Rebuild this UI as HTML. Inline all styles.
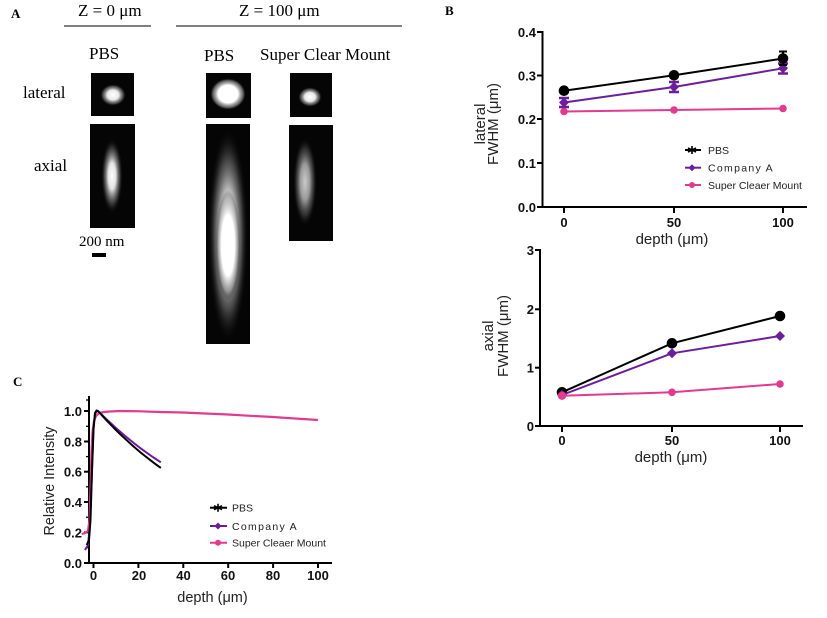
<!DOCTYPE html>
<html><head><meta charset="utf-8"><style>
html,body{margin:0;padding:0;background:#fff;}
svg{display:block;}
.serif{font-family:"Liberation Serif",serif;}
.sans{font-family:"Liberation Sans",sans-serif;}
</style></head><body>
<svg width="827" height="618" viewBox="0 0 827 618" xmlns="http://www.w3.org/2000/svg">
<defs>
<radialGradient id="g1" cx="50%" cy="50%" r="50%">
 <stop offset="0" stop-color="#fff" stop-opacity="1"/>
 <stop offset="0.45" stop-color="#f4f4f4" stop-opacity="0.95"/>
 <stop offset="0.8" stop-color="#888" stop-opacity="0.5"/>
 <stop offset="1" stop-color="#000" stop-opacity="0"/>
</radialGradient>
<radialGradient id="g2" cx="50%" cy="50%" r="50%">
 <stop offset="0" stop-color="#fff" stop-opacity="1"/>
 <stop offset="0.55" stop-color="#fff" stop-opacity="1"/>
 <stop offset="0.85" stop-color="#999" stop-opacity="0.6"/>
 <stop offset="1" stop-color="#000" stop-opacity="0"/>
</radialGradient>
<radialGradient id="g3" cx="50%" cy="50%" r="50%">
 <stop offset="0" stop-color="#fff" stop-opacity="1"/>
 <stop offset="0.35" stop-color="#eee" stop-opacity="0.95"/>
 <stop offset="0.7" stop-color="#777" stop-opacity="0.55"/>
 <stop offset="1" stop-color="#000" stop-opacity="0"/>
</radialGradient>
<radialGradient id="g4" cx="50%" cy="50%" r="50%">
 <stop offset="0" stop-color="#ccc" stop-opacity="1"/>
 <stop offset="0.4" stop-color="#aaa" stop-opacity="0.9"/>
 <stop offset="0.75" stop-color="#555" stop-opacity="0.5"/>
 <stop offset="1" stop-color="#000" stop-opacity="0"/>
</radialGradient>
</defs>

<!-- ===== Panel A ===== -->
<g class="serif" fill="#000">
<text x="11" y="18" font-size="13" font-weight="bold">A</text>
<text x="78" y="16" font-size="17">Z = 0 μm</text>
<line x1="64" y1="26" x2="151" y2="26" stroke="#000" stroke-width="1"/>
<text x="239" y="16" font-size="17">Z = 100 μm</text>
<line x1="176" y1="26" x2="402" y2="26" stroke="#000" stroke-width="1"/>
<text x="89" y="59" font-size="17">PBS</text>
<text x="204" y="61" font-size="17">PBS</text>
<text x="260" y="60" font-size="17">Super Clear Mount</text>
<text x="23" y="98" font-size="17">lateral</text>
<text x="34" y="171" font-size="17">axial</text>
<text x="79" y="246" font-size="15">200 nm</text>
</g>
<rect x="92" y="253" width="14" height="4" fill="#000"/>

<!-- images -->
<rect x="91" y="73" width="43" height="43" fill="#050505"/>
<ellipse cx="113" cy="95" rx="13" ry="11" fill="url(#g1)"/>
<rect x="206" y="73" width="45" height="45" fill="#050505"/>
<ellipse cx="228" cy="94" rx="18" ry="16" fill="url(#g2)"/>
<rect x="290" y="73" width="42" height="44" fill="#050505"/>
<ellipse cx="310" cy="97" rx="12" ry="10" fill="url(#g1)"/>

<rect x="90" y="124" width="45" height="104" fill="#050505"/>
<ellipse cx="112" cy="176" rx="11" ry="38" fill="url(#g3)"/>
<rect x="206" y="124" width="44" height="220" fill="#050505"/>
<ellipse cx="228" cy="235" rx="20" ry="108" fill="url(#g3)"/>
<ellipse cx="228" cy="245" rx="12" ry="55" fill="url(#g2)"/>
<rect x="289" y="125" width="44" height="116" fill="#050505"/>
<ellipse cx="305" cy="182" rx="12" ry="45" fill="url(#g4)"/>

<!-- ===== Panel B top ===== -->
<text x="445" y="15" class="serif" font-size="13" font-weight="bold">B</text>
<g stroke="#000" stroke-width="2" fill="none">
 <line x1="542.5" y1="31" x2="542.5" y2="208"/>
 <line x1="541.5" y1="207" x2="807" y2="207"/>
 <line x1="537" y1="32" x2="543" y2="32"/>
 <line x1="537" y1="75.5" x2="543" y2="75.5"/>
 <line x1="537" y1="119" x2="543" y2="119"/>
 <line x1="537" y1="163" x2="543" y2="163"/>
 <line x1="537" y1="207" x2="543" y2="207"/>
 <line x1="564" y1="207" x2="564" y2="213"/>
 <line x1="674" y1="207" x2="674" y2="213"/>
 <line x1="783" y1="207" x2="783" y2="213"/>
</g>
<g class="sans" font-size="13" font-weight="bold" text-anchor="end" fill="#111">
 <text x="536" y="37">0.4</text>
 <text x="536" y="80.5">0.3</text>
 <text x="536" y="124">0.2</text>
 <text x="536" y="168">0.1</text>
 <text x="536" y="212">0.0</text>
</g>
<g class="sans" font-size="13" font-weight="bold" text-anchor="middle" fill="#111">
 <text x="564" y="227">0</text>
 <text x="674" y="227">50</text>
 <text x="783" y="227">100</text>
</g>
<text x="672" y="244" class="sans" font-size="15" text-anchor="middle" fill="#222">depth (μm)</text>
<text transform="translate(485,124) rotate(-90)" class="sans" font-size="15" text-anchor="middle" fill="#222">lateral</text>
<text transform="translate(498,124) rotate(-90)" class="sans" font-size="15" text-anchor="middle" fill="#222">FWHM (μm)</text>

<!-- series -->
<polyline points="564,111.5 674,110 783,108.5" fill="none" stroke="#e23a8e" stroke-width="2"/>
<g fill="#e23a8e"><circle cx="564" cy="111.5" r="3.8"/><circle cx="674" cy="110" r="3.8"/><circle cx="783" cy="108.5" r="3.8"/></g>
<polyline points="564,102.5 674,87 783,68.3" fill="none" stroke="#6b1d9c" stroke-width="2"/>
<g stroke="#6b1d9c" stroke-width="2.5" fill="none">
 <path d="M564,98v9M559,98h10M559,107h10"/>
 <path d="M674,82v10M669,82h10M669,92h10"/>
 <path d="M783,63.5v10M778,63.5h10M778,73.5h10"/>
</g>
<g fill="#6b1d9c">
 <path d="M564,97.5l5,5l-5,5l-5,-5z"/>
 <path d="M674,82l5,5l-5,5l-5,-5z"/>
 <path d="M783,63.3l5,5l-5,5l-5,-5z"/>
</g>
<polyline points="564,90.7 674,75.3 783,58.5" fill="none" stroke="#000" stroke-width="2"/>
<g stroke="#000" stroke-width="2" fill="none"><path d="M783,51.5v13.5M779,51.5h8M779,65h8"/></g>
<g fill="#000"><circle cx="564" cy="90.7" r="5.3"/><circle cx="674" cy="75.3" r="5.3"/><circle cx="783" cy="58.5" r="5.3"/></g>

<!-- legend B -->
<g stroke-width="2">
 <line x1="685" y1="150" x2="701" y2="150" stroke="#000"/>
 <line x1="685" y1="167.7" x2="701" y2="167.7" stroke="#6b1d9c"/>
 <line x1="685" y1="185" x2="701" y2="185" stroke="#e23a8e"/>
</g>
<path d="M692,146v8M688,148l8,4M688,152l8,-4" stroke="#000" stroke-width="1.6"/>
<path d="M692,164.2l3.5,3.5l-3.5,3.5l-3.5,-3.5z" fill="#6b1d9c"/>
<circle cx="692" cy="185" r="3" fill="#e23a8e"/>
<g class="sans" font-size="10.5" fill="#222">
 <text x="708" y="154">PBS</text>
 <text x="708" y="171.5" letter-spacing="1.3">Company A</text>
 <text x="708" y="189">Super Cleaer Mount</text>
</g>

<!-- ===== Panel B bottom ===== -->
<g stroke="#000" stroke-width="2" fill="none">
 <line x1="540" y1="249" x2="540" y2="427"/>
 <line x1="539" y1="426" x2="803" y2="426"/>
 <line x1="535" y1="250" x2="541" y2="250"/>
 <line x1="535" y1="309.3" x2="541" y2="309.3"/>
 <line x1="535" y1="367.7" x2="541" y2="367.7"/>
 <line x1="535" y1="426" x2="541" y2="426"/>
 <line x1="562" y1="426" x2="562" y2="432"/>
 <line x1="672" y1="426" x2="672" y2="432"/>
 <line x1="780" y1="426" x2="780" y2="432"/>
</g>
<g class="sans" font-size="13" font-weight="bold" text-anchor="end" fill="#111">
 <text x="534" y="255">3</text>
 <text x="534" y="314">2</text>
 <text x="534" y="372.5">1</text>
 <text x="534" y="431">0</text>
</g>
<g class="sans" font-size="13" font-weight="bold" text-anchor="middle" fill="#111">
 <text x="562" y="445">0</text>
 <text x="672" y="445">50</text>
 <text x="780" y="445">100</text>
</g>
<text x="671" y="462" class="sans" font-size="15" text-anchor="middle" fill="#222">depth (μm)</text>
<text transform="translate(493,336) rotate(-90)" class="sans" font-size="15" text-anchor="middle" fill="#222">axial</text>
<text transform="translate(508,336) rotate(-90)" class="sans" font-size="15" text-anchor="middle" fill="#222">FWHM (μm)</text>

<polyline points="562,392.3 672,343.3 780,316" fill="none" stroke="#000" stroke-width="2"/>
<g fill="#000"><circle cx="562" cy="392.3" r="5.3"/><circle cx="672" cy="343.3" r="5.3"/><circle cx="780" cy="316" r="5.3"/></g>
<polyline points="562,395 672,353.3 780,336" fill="none" stroke="#6b1d9c" stroke-width="2"/>
<g fill="#6b1d9c">
 <path d="M562,390l5,5l-5,5l-5,-5z"/>
 <path d="M672,348.3l5,5l-5,5l-5,-5z"/>
 <path d="M780,331l5,5l-5,5l-5,-5z"/>
</g>
<polyline points="562,395.7 672,392.3 780,384" fill="none" stroke="#e23a8e" stroke-width="2"/>
<g fill="#e23a8e"><circle cx="562" cy="395.7" r="4.2"/><circle cx="672" cy="392.3" r="3.8"/><circle cx="780" cy="384" r="3.8"/></g>

<!-- ===== Panel C ===== -->
<text x="13" y="386" class="serif" font-size="13" font-weight="bold">C</text>
<g stroke="#000" stroke-width="2" fill="none">
 <line x1="89" y1="396" x2="89" y2="564"/>
 <line x1="85" y1="563" x2="332" y2="563"/>
 <line x1="84" y1="411" x2="89" y2="411"/>
 <line x1="84" y1="441.5" x2="89" y2="441.5"/>
 <line x1="84" y1="471.7" x2="89" y2="471.7"/>
 <line x1="84" y1="502" x2="89" y2="502"/>
 <line x1="84" y1="532.4" x2="89" y2="532.4"/>
 <line x1="84" y1="563" x2="89" y2="563"/>
 <line x1="93.5" y1="563" x2="93.5" y2="568"/>
 <line x1="138.4" y1="563" x2="138.4" y2="568"/>
 <line x1="183.3" y1="563" x2="183.3" y2="568"/>
 <line x1="228.2" y1="563" x2="228.2" y2="568"/>
 <line x1="273.1" y1="563" x2="273.1" y2="568"/>
 <line x1="318" y1="563" x2="318" y2="568"/>
</g>
<g stroke="#000" stroke-width="1.3">
 <line x1="86" y1="426.3" x2="89" y2="426.3"/>
 <line x1="86" y1="456.6" x2="89" y2="456.6"/>
 <line x1="86" y1="486.8" x2="89" y2="486.8"/>
 <line x1="86" y1="517.2" x2="89" y2="517.2"/>
 <line x1="86" y1="547.7" x2="89" y2="547.7"/>
 <line x1="86" y1="400" x2="89" y2="400"/>
</g>
<g class="sans" font-size="13" font-weight="bold" text-anchor="end" fill="#111">
 <text x="82" y="416">1.0</text>
 <text x="82" y="446.5">0.8</text>
 <text x="82" y="476.7">0.6</text>
 <text x="82" y="507">0.4</text>
 <text x="82" y="537.4">0.2</text>
 <text x="82" y="568">0.0</text>
</g>
<g class="sans" font-size="13" font-weight="bold" text-anchor="middle" fill="#111">
 <text x="93.5" y="580">0</text>
 <text x="139" y="580">20</text>
 <text x="183.5" y="580">40</text>
 <text x="228" y="580">60</text>
 <text x="273" y="580">80</text>
 <text x="318" y="580">100</text>
</g>
<text x="212.5" y="602" class="sans" font-size="14.5" text-anchor="middle" fill="#222">depth (μm)</text>
<text transform="translate(54,481) rotate(-90)" class="sans" font-size="14.3" text-anchor="middle" fill="#222">Relative Intensity</text>

<polyline fill="none" stroke="#e23a8e" stroke-width="2.2" stroke-linejoin="round" points="81.7,534 85,533 88,531 89.5,520 90.5,490 91.5,452 92.5,432 94,421 96,416 99,413 104,412 110,411.5 120,411 140,411.3 160,412 183,412.5 205,413.5 228,414.5 250,415.8 273,417 295,418.5 318,420"/>
<polyline fill="none" stroke="#6b1d9c" stroke-width="2" stroke-linejoin="round" points="85,550 88,545 90,525 92,470 93.5,427 95,414 97,411 98,411 102.5,415.4 107,419.7 111.5,423.9 115.95,428 120.4,431.9 127.2,437.7 133.9,443.1 140.6,448.3 147.4,453.2 154.1,457.9 160.85,462.3"/>
<polyline fill="none" stroke="#000" stroke-width="2" stroke-linejoin="round" points="86.7,545 89,540 90.5,520 92,470 93.5,430 95,413 96.5,410.5 98,411 102.5,415.9 107,420.8 111.5,425.4 115.95,430 120.4,434.4 127.2,440.7 133.9,446.8 140.6,452.5 147.4,457.9 154.1,463.1 160.85,467.9"/>

<!-- legend C -->
<g stroke-width="2">
 <line x1="210" y1="507.7" x2="227" y2="507.7" stroke="#000"/>
 <line x1="210" y1="526" x2="227" y2="526" stroke="#6b1d9c"/>
 <line x1="210" y1="542.7" x2="227" y2="542.7" stroke="#e23a8e"/>
</g>
<path d="M218,503.7v8M214,505.7l8,4M214,509.7l8,-4" stroke="#000" stroke-width="1.6"/>
<path d="M218,522.5l3.5,3.5l-3.5,3.5l-3.5,-3.5z" fill="#6b1d9c"/>
<circle cx="218" cy="542.7" r="3" fill="#e23a8e"/>
<g class="sans" font-size="10.5" fill="#222">
 <text x="232" y="511.5">PBS</text>
 <text x="232" y="530" letter-spacing="1.3">Company A</text>
 <text x="232" y="546.5">Super Cleaer Mount</text>
</g>
</svg>
</body></html>
